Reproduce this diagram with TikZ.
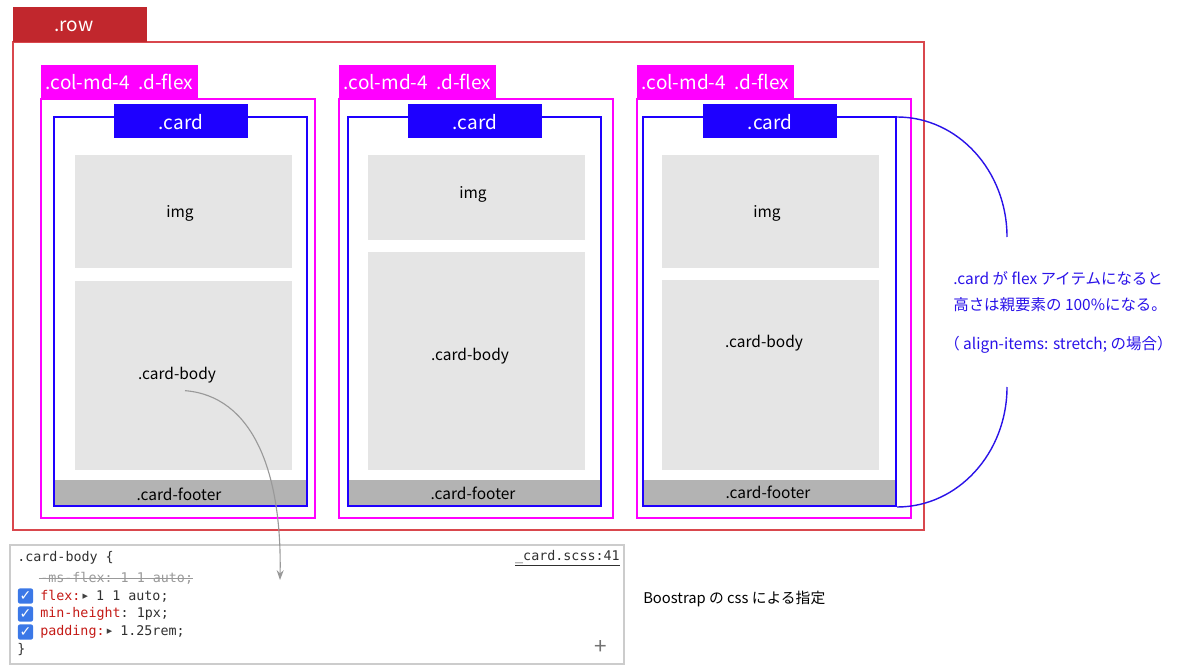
\documentclass[tikz,border=0pt]{standalone}
\usepackage{fontspec}
\setmainfont{Noto Sans CJK JP}
\setmonofont{DejaVu Sans Mono}
\newfontfamily\symfont{DejaVu Sans}
\usetikzlibrary{arrows.meta}

\definecolor{rowred}{HTML}{C1272D}
\definecolor{rowline}{HTML}{D9474D}
\definecolor{colmag}{HTML}{FF00FF}
\definecolor{cardblue}{HTML}{1E00FF}
\definecolor{imggray}{HTML}{E5E5E5}
\definecolor{footgray}{HTML}{B3B3B3}
\definecolor{noteblue}{HTML}{2A12E8}
\definecolor{cssred}{HTML}{C41A16}
\definecolor{csstext}{HTML}{303030}
\definecolor{chkblue}{HTML}{3B78E7}

\newcommand\tri{\,\raisebox{0.25ex}{\symfont\fontsize{5}{5}\selectfont\textcolor{darkgray}{▶}}\ }

\begin{document}
\begin{tikzpicture}[x=0.025cm,y=-0.025cm,
  tabtext/.style={anchor=base,text=white,font=\fontsize{13.5}{16}\selectfont,inner sep=0pt},
  boxtext/.style={font=\fontsize{11}{13}\selectfont,inner sep=1pt},
  note/.style={anchor=west,text=noteblue,font=\fontsize{11}{13}\selectfont,inner sep=0pt},
  code/.style={anchor=west,text=csstext,font=\ttfamily\fontsize{9.5}{11}\selectfont,inner sep=0pt},
  checkbox/.style={fill=chkblue,rounded corners=1.5pt,minimum size=0.38cm,inner sep=0pt,
    text=white,font=\symfont\fontsize{10}{10}\selectfont}]
  \useasboundingbox (0,0) rectangle (1200,669);

  % .row
  \draw[rowline,line width=1pt] (13,42) rectangle (924,530);
  \fill[rowred] (13,7) rectangle (147,42);
  \node[tabtext] (rowlbl) at (74,32) {.row};

  % columns / cards
  \foreach \c/\colx/\cardx/\imgx/\imgb/\bodyt/\imgy/\bodyy/\footy in
      {1/41/54/75/268/281/213/375/494,
       2/339/348/368/240/252/194/356/493,
       3/637/643/662/268/280/213/343/492} {
    \draw[colmag,line width=1pt] (\colx,99) rectangle ++(274,419);
    \fill[colmag] (\colx,65) rectangle ++(157,34);
    \node[tabtext] (col\c) at (\colx+78.5,89.5) {.col-md-4\ \ .d-flex};
    \fill[imggray] (\imgx,155) rectangle (\imgx+217,\imgb);
    \node[boxtext] (img\c) at (\imgx+105,\imgy) {img};
    \fill[imggray] (\imgx,\bodyt) rectangle (\imgx+217,470);
    \node[boxtext] (body\c) at (\imgx+102,\bodyy) {.card-body};
    \fill[footgray] (\cardx,480) rectangle ++(253,26);
    \node[boxtext] (foot\c) at (\cardx+125,\footy) {.card-footer};
    \draw[cardblue,line width=1pt] (\cardx,117) rectangle ++(253,389);
    \fill[cardblue] (\cardx+60,104) rectangle ++(134,34);
    \node[tabtext] (card\c) at (\cardx+127,129.5) {.card};
  }

  % stretch note
  \draw[noteblue,line width=1pt] (897,117) .. controls (958,117) and (1007,171) .. (1007,237);
  \draw[noteblue,line width=1pt] (1007,387) .. controls (1007,453) and (958,507) .. (897,507);
  \node[note] (note1) at (953,278) {.card が flex アイテムになると};
  \node[note] (note2) at (953,305) {高さは親要素の 100\%になる。};
  \node[note] (note3) at (944,345) {（ align-items: stretch; の場合）};

  % css panel
  \draw[gray!40,line width=1.2pt] (10,545) rectangle (624,664);
  \node[code] (sel) at (17,558) {.card-body \{};
  \node[code,anchor=east] (src) at (620,558) {\underline{\_card.scss:41}};
  \node[code,text=gray!80] (msflex) at (40,578) {-ms-flex: 1 1 auto;};
  \draw[gray!80,line width=0.6pt] ([xshift=-1pt]msflex.mid west) -- (msflex.mid east);
  \node[checkbox] (chk1) at (25.5,596) {✓};
  \node[code] (flex) at (40,596) {\textcolor{cssred}{flex:}\tri 1 1 auto;};
  \node[checkbox] (chk2) at (25.5,614) {✓};
  \node[code] (minh) at (40,614) {\textcolor{cssred}{min-height}: 1px;};
  \node[checkbox] (chk3) at (25.5,632) {✓};
  \node[code] (pad) at (40,632) {\textcolor{cssred}{padding:}\tri 1.25rem;};
  \node[code] (close) at (17,650) {\}};
  \node[text=gray!90!black,font=\fontsize{16}{16}\selectfont,inner sep=0pt] (plus) at (601,647) {+};

  \coordinate (arrowend) at (280,580);
  \draw[gray!80,line width=0.8pt,-{Stealth[length=7pt,width=5pt]}]
    ([xshift=0.2cm,yshift=-0.15cm]body1.south) .. controls (252,396) and (282,470) .. (arrowend);

  \node[anchor=west,font=\fontsize{10.5}{12}\selectfont,inner sep=0pt] (bsnote) at (643,599)
    {Boostrap の css による指定};
\end{tikzpicture}
\end{document}
